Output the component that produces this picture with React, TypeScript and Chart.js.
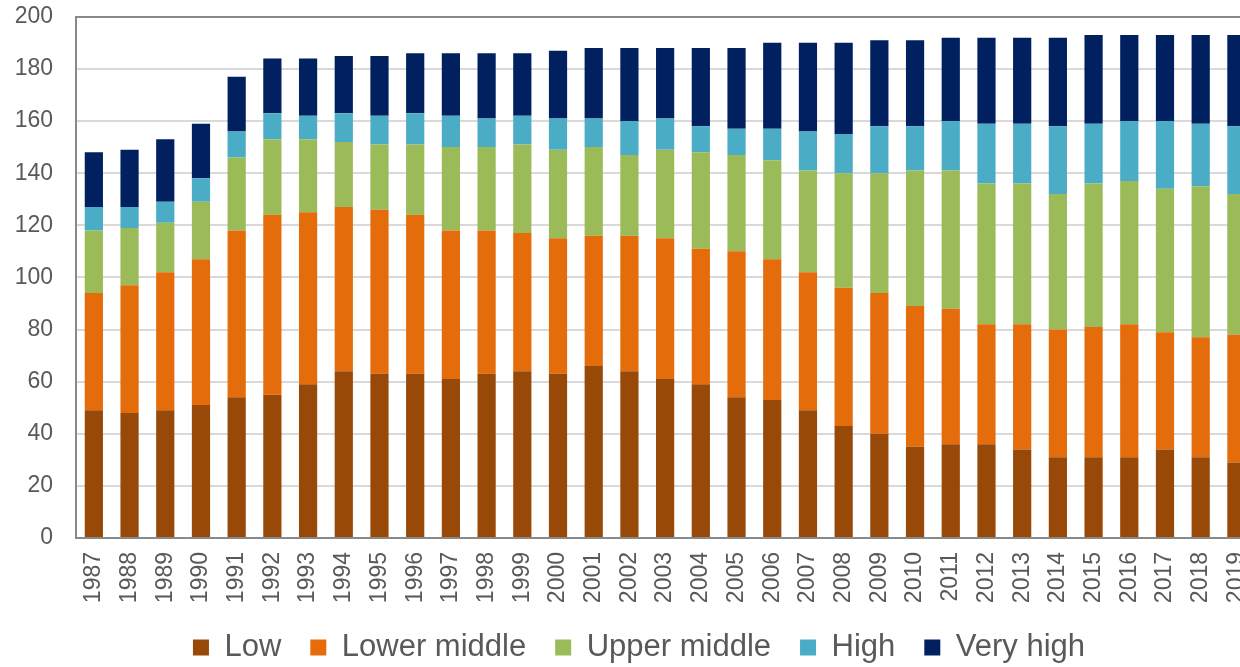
import React, { useEffect, useRef } from "react";
import { Chart, registerables } from "chart.js";

Chart.register(...registerables);

const years = [
  "1987", "1988", "1989", "1990", "1991", "1992", "1993", "1994", "1995", "1996", "1997",
  "1998", "1999", "2000", "2001", "2002", "2003", "2004", "2005", "2006", "2007", "2008",
  "2009", "2010", "2011", "2012", "2013", "2014", "2015", "2016", "2017", "2018", "2019",
];

const low = [49, 48, 49, 51, 54, 55, 59, 64, 63, 63, 61, 63, 64, 63, 66, 64, 61, 59, 54, 53, 49, 43, 40, 35, 36, 36, 34, 31, 31, 31, 34, 31, 29];
const lowerMiddle = [45, 49, 53, 56, 64, 69, 66, 63, 63, 61, 57, 55, 53, 52, 50, 52, 54, 52, 56, 54, 53, 53, 54, 54, 52, 46, 48, 49, 50, 51, 45, 46, 49];
const upperMiddle = [24, 22, 19, 22, 28, 29, 28, 25, 25, 27, 32, 32, 34, 34, 34, 31, 34, 37, 37, 38, 39, 44, 46, 52, 53, 54, 54, 52, 55, 55, 55, 58, 54];
const high = [9, 8, 8, 9, 10, 10, 9, 11, 11, 12, 12, 11, 11, 12, 11, 13, 12, 10, 10, 12, 15, 15, 18, 17, 19, 23, 23, 26, 23, 23, 26, 24, 26];
const veryHigh = [21, 22, 24, 21, 21, 21, 22, 22, 23, 23, 24, 25, 24, 26, 27, 28, 27, 30, 31, 33, 34, 35, 33, 33, 32, 33, 33, 34, 34, 33, 33, 34, 35];

const seriesNames = ["Low", "Lower middle", "Upper middle", "High", "Very high"];
const seriesColors = ["#984807", "#E46C0A", "#9BBB59", "#4BACC6", "#002060"];
const seriesValues = [low, lowerMiddle, upperMiddle, high, veryHigh];

const yMin = 0;
const yMax = 200;
const yStep = 20;

const FONT = "'Liberation Sans', Arial, sans-serif";
const TEXT = "#595959";

export default function App() {
  const canvasRef = useRef<HTMLCanvasElement | null>(null);

  useEffect(() => {
    if (!canvasRef.current) return;
    const chart = new Chart(canvasRef.current, {
      type: "bar",
      data: {
        labels: years,
        datasets: seriesNames.map((name, i) => ({
          label: name,
          data: seriesValues[i],
          backgroundColor: seriesColors[i],
          borderWidth: 0,
          barPercentage: 0.51,
          categoryPercentage: 1,
        })),
      },
      options: {
        animation: false,
        responsive: true,
        maintainAspectRatio: false,
        layout: { padding: { left: 0, top: 0, right: 0, bottom: 0 } },
        plugins: {
          tooltip: { enabled: false },
          legend: {
            position: "bottom",
            labels: {
              font: { family: FONT, size: 31 },
              color: TEXT,
              boxWidth: 16,
              boxHeight: 16,
              padding: 29,
            },
          },
        },
        scales: {
          x: {
            stacked: true,
            grid: { display: false, drawTicks: false },
            border: { display: true, color: "#898989", width: 2 },
            ticks: {
              font: { family: FONT, size: 23 },
              color: TEXT,
              maxRotation: 90,
              minRotation: 90,
              autoSkip: false,
              padding: 14,
            },
            afterFit: (scale: any) => {
              scale.height = 65;
            },
          },
          y: {
            stacked: true,
            min: yMin,
            max: yMax,
            grid: {
              drawTicks: false,
              color: (ctx: any) => (ctx.tick && ctx.tick.value === yMax ? "#898989" : "#d9d9d9"),
              lineWidth: 2,
            },
            border: { display: true, color: "#898989", width: 2 },
            ticks: {
              stepSize: yStep,
              font: { family: FONT, size: 23 },
              color: TEXT,
              padding: 23,
            },
            afterFit: (scale: any) => {
              scale.width = 76;
            },
          },
        },
      },
    });
    return () => chart.destroy();
  }, []);

  return (
    <div style={{ position: "fixed", left: 0, top: 0, width: 1240, height: 667, overflow: "hidden", background: "#fff" }}>
      <div style={{ position: "absolute", left: 0, top: -20, width: 1278, height: 693 }}>
        <canvas ref={canvasRef} />
      </div>
    </div>
  );
}
